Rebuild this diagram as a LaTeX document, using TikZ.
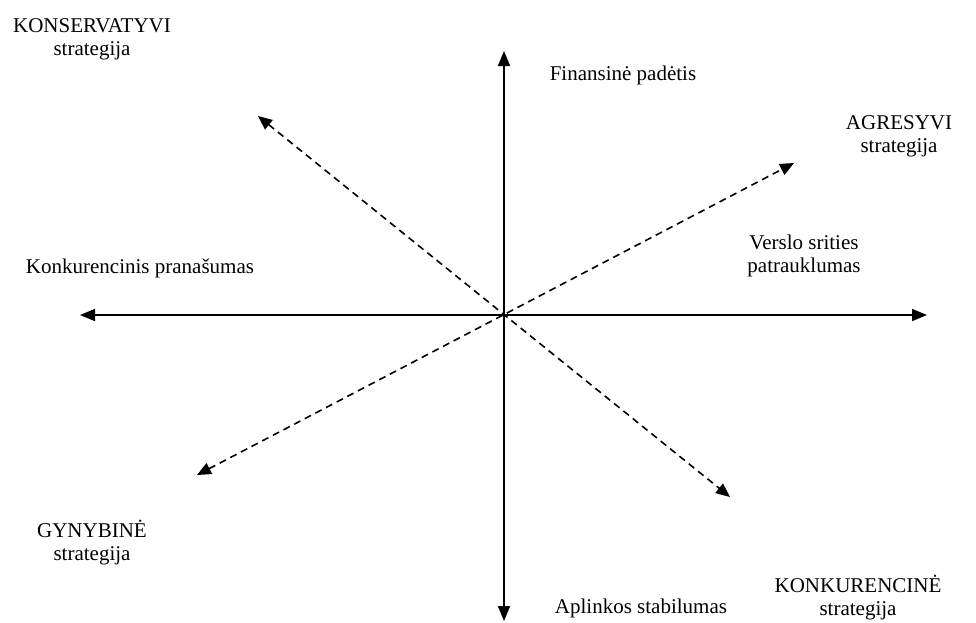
\documentclass[tikz,border=0pt]{standalone}
\usepackage{fontspec}
\setmainfont{Liberation Serif}
\usetikzlibrary{arrows.meta}
\tikzset{
  lbl/.style={font=\fontsize{21}{23}\selectfont, inner sep=0pt, align=center, anchor=base},
  axis/.style={line width=1.7pt, {Triangle[length=15pt,width=12pt]}-{Triangle[length=15pt,width=12pt]}},
  diag/.style={line width=1.6pt, dash pattern=on 7pt off 5pt, {Triangle[length=14pt,width=12pt]}-{Triangle[length=14pt,width=12pt]}}
}
\begin{document}
\begin{tikzpicture}[x=1pt,y=-1pt]
\useasboundingbox (0,0) rectangle (976,622);
\coordinate (L) at (80,315);
\coordinate (R) at (927,315);
\coordinate (T) at (504,51);
\coordinate (B) at (504,621);
\coordinate (UL) at (258,116);
\coordinate (LR) at (730,497);
\coordinate (UR) at (794,163);
\coordinate (LL) at (197,475);
\draw[axis] (L) -- (R);
\draw[axis] (T) -- (B);
\draw[diag] (UL) -- (LR);
\draw[diag] (LL) -- (UR);
\node[lbl] (kons) at (92,55) {KONSERVATYVI\\strategija};
\node[lbl] (fin) at (623,80) {Finansinė padėtis};
\node[lbl] (agr) at (899,152) {AGRESYVI\\strategija};
\node[lbl] (vers) at (804,272) {Verslo srities\\patrauklumas};
\node[lbl] (konk) at (140,273) {Konkurencinis pranašumas};
\node[lbl] (gyn) at (92,560) {GYNYBINĖ\\strategija};
\node[lbl] (apl) at (641,613) {Aplinkos stabilumas};
\node[lbl] (kkr) at (858,615) {KONKURENCINĖ\\strategija};
\end{tikzpicture}
\end{document}
